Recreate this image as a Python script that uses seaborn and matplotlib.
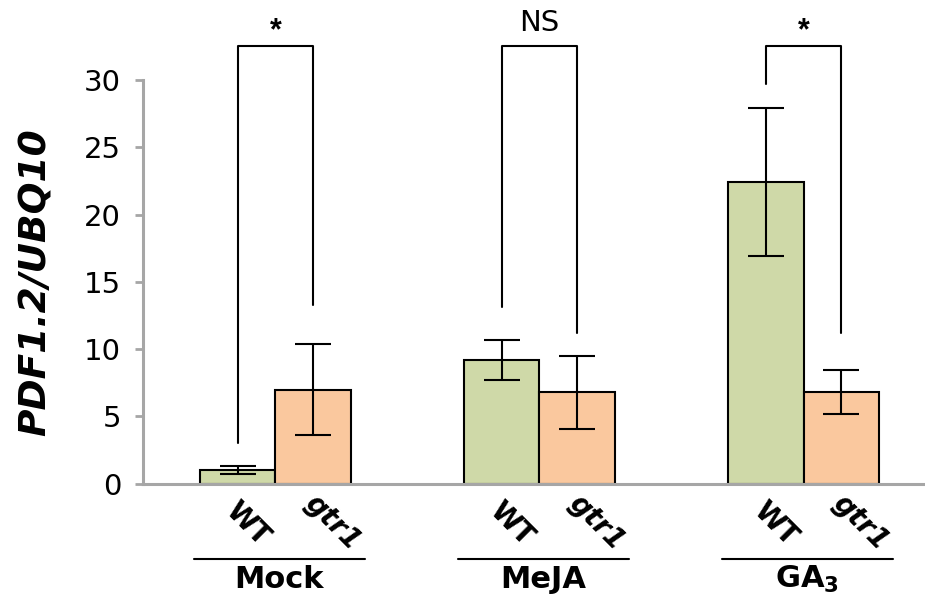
import matplotlib
matplotlib.use("Agg")
import matplotlib.pyplot as plt
import seaborn as sns
import pandas as pd

# Expression values (mean and error) per treatment and genotype
treatments = ["Mock", "MeJA", "GA3"]
genotypes = ["WT", "gtr1"]
wt_mean = [1.0, 9.2, 22.4]
wt_err = [0.3, 1.5, 5.5]
gtr1_mean = [7.0, 6.8, 6.8]
gtr1_err = [3.35, 2.7, 1.65]

# Significance brackets: label, bottom of left leg, bottom of right leg
sig_labels = ["*", "NS", "*"]
sig_left_bottom = [3.0, 13.1, 29.7]
sig_right_bottom = [13.3, 11.2, 11.2]
sig_top = 32.5

group_labels = ["Mock", "MeJA", r"GA$_\mathbf{3}$"]

sns.set_theme(style="white")
plt.rcParams["font.family"] = ["DejaVu Sans"]
plt.rcParams["mathtext.fontset"] = "dejavusans"
plt.rcParams["text.color"] = "black"
plt.rcParams["axes.labelcolor"] = "black"
plt.rcParams["ytick.labelcolor"] = "black"

df = pd.DataFrame({
    "treatment": treatments * 2,
    "genotype": ["WT"] * 3 + ["gtr1"] * 3,
    "value": wt_mean + gtr1_mean,
})

fig = plt.figure(figsize=(9.25, 6.01), dpi=100)
ax = fig.add_axes([0.155, 0.195, 0.845, 0.672])

sns.barplot(data=df, x="treatment", y="value", hue="genotype",
            order=treatments, hue_order=genotypes,
            palette={"WT": "#cfd9a8", "gtr1": "#fac89e"}, saturation=1,
            width=0.57, edgecolor="black", linewidth=1.5,
            errorbar=None, legend=False, ax=ax)

# Error bars drawn at each bar centre
errs = {"WT": wt_err, "gtr1": gtr1_err}
centers = {}
for g, cont in zip(genotypes, ax.containers):
    xs = [p.get_x() + p.get_width() / 2 for p in cont.patches]
    hs = [p.get_height() for p in cont.patches]
    centers[g] = xs
    ax.errorbar(xs, hs, yerr=errs[g], fmt="none", ecolor="black",
                elinewidth=1.5, capsize=13, capthick=1.5, zorder=5)

ax.set_xlim(-0.5, 2.46)
ax.set_ylim(0, 30)
ax.set_yticks([0, 5, 10, 15, 20, 25, 30])
ax.set_xticks([])
ax.set_xlabel("")
ax.set_ylabel("PDF1.2/UBQ10", fontsize=27, fontweight="bold", style="italic")
ax.yaxis.set_label_coords(-0.115, 0.5)

for side in ["top", "right"]:
    ax.spines[side].set_visible(False)
for side in ["left", "bottom"]:
    ax.spines[side].set_color("#a6a6a6")
    ax.spines[side].set_linewidth(2.2)
ax.tick_params(axis="y", which="major", left=True, length=6, width=2,
               color="#a6a6a6", labelsize=21, pad=10, labelcolor="black")

# Significance brackets above each pair
for i in range(3):
    xl = centers["WT"][i]
    xr = centers["gtr1"][i]
    ax.plot([xl, xl, xr, xr], [sig_left_bottom[i], sig_top, sig_top, sig_right_bottom[i]],
            color="black", lw=1.5, clip_on=False)
    if sig_labels[i] == "*":
        ax.text((xl + xr) / 2, 33.6, "*", ha="center", va="center",
                fontsize=22, fontweight="bold", family="Liberation Sans",
                clip_on=False)
    else:
        ax.text((xl + xr) / 2, 34.2, sig_labels[i], ha="center", va="center",
                fontsize=21, clip_on=False)

# Genotype labels, group underline and treatment label
trans = ax.get_xaxis_transform()
for i in range(3):
    ax.text(centers["WT"][i] + 0.035, -0.1, "WT", transform=trans,
            rotation=-45, ha="center", va="center", fontsize=20,
            fontweight="bold", rotation_mode="anchor")
    ax.text(centers["gtr1"][i] + 0.075, -0.095, "gtr1", transform=trans,
            rotation=-45, ha="center", va="center", fontsize=20,
            fontweight="bold", style="italic", rotation_mode="anchor")
    ax.plot([i - 0.31, i + 0.34], [-0.186, -0.186], transform=trans,
            color="black", lw=1.5, clip_on=False)
    ax.text(i + 0.015, -0.237, group_labels[i], transform=trans,
            ha="center", va="center", fontsize=22, fontweight="bold")

fig.savefig("out.png", dpi=100)
